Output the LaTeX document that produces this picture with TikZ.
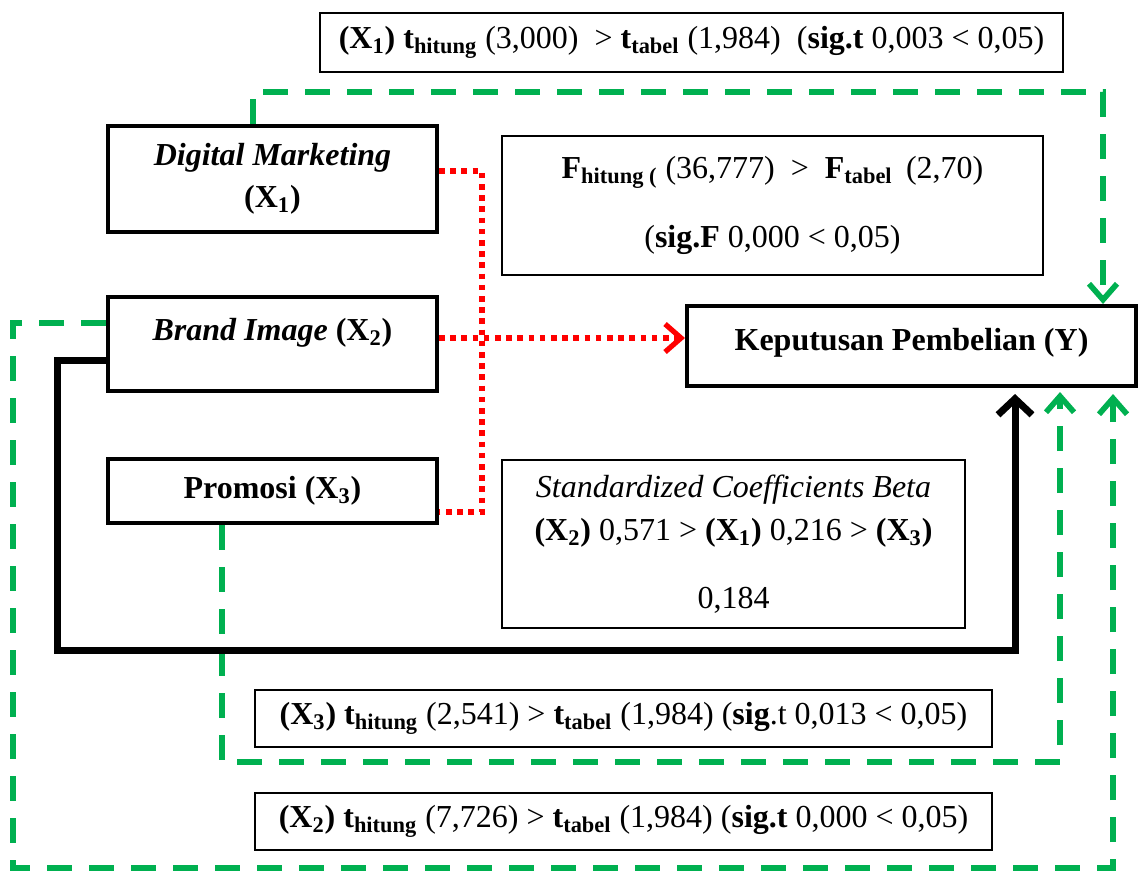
\documentclass[tikz,border=0pt]{standalone}
\usepackage{fontspec}
\setmainfont{Liberation Serif}
\usepackage{xcolor}
\definecolor{sigred}{RGB}{255,0,0}
\definecolor{siggreen}{RGB}{0,176,80}
\newcommand{\lo}[1]{\textsubscript{\textbf{#1}}}
\usepackage{tikz}
\usetikzlibrary{arrows.meta}
\usetikzlibrary{calc}

\begin{document}
\begin{tikzpicture}[x=0.5pt, y=-0.5pt,
    every node/.style={font=\fontsize{16pt}{19pt}\selectfont},
    varbox/.style={draw, line width=2pt, minimum width=164.5pt, inner sep=0pt, align=center},
    statbox/.style={draw, line width=0.75pt, inner sep=0pt, align=center},
    reddot/.style={draw=sigred, line width=2.6pt, dash pattern=on 2.8pt off 2.8pt},
    greendash/.style={draw=siggreen, line width=2.8pt, dash pattern=on 12.5pt off 8.5pt,
      -{Straight Barb[length=8pt, width=14pt]}},
    mainline/.style={line width=3.5pt, -{Straight Barb[length=8pt, width=17pt]}}]

  \useasboundingbox (0,0) rectangle (1138,875);

  % variables
  \node [varbox, minimum height=53pt] (dm) at (272.5,179)
    {\textbf{\textit{Digital Marketing}}\\[2pt]\textbf{(X\lo{1})}};
  \node [varbox, minimum height=47pt, text depth=15pt] (bi) at (272.5,344)
    {\textbf{\textit{Brand Image} (X\lo{2})}};
  \node [varbox, minimum height=32pt] (pr) at (272.5,491)
    {\textbf{Promosi (X\lo{3})}};
  \node [varbox, minimum width=224.5pt, minimum height=40pt, text depth=7pt] (yb) at (911.5,346)
    {\textbf{Keputusan Pembelian (Y)}};

  % results
  \node [statbox, minimum width=371.5pt, minimum height=29.5pt] (tone) at (691.5,42.5)
    {\textbf{(X\lo{1}) t\lo{hitung}} (3,000) \ > \textbf{t\lo{tabel}} (1,984) \ (\textbf{sig.t} 0,003 < 0,05)};
  \node [statbox, minimum width=270.5pt, minimum height=69.5pt] (fb) at (772.5,205.5)
    {\textbf{F\lo{hitung (}} (36,777) \ > \ \textbf{F\lo{tabel}} \,(2,70)\\[15.5pt]
     (\textbf{sig.F} 0,000 < 0,05)};
  \node [statbox, minimum width=231.5pt, minimum height=84pt] (bb) at (733.5,544)
    {\textit{Standardized Coefficients Beta}\\[2.5pt]
     \textbf{(X\lo{2})} 0,571 > \textbf{(X\lo{1})} 0,216 > \textbf{(X\lo{3})}\\[15pt]
     0,184};
  \node [statbox, minimum width=368.5pt, minimum height=28.5pt] (tthree) at (623.5,718.5)
    {\textbf{(X\lo{3}) t\lo{hitung}} (2,541) > \textbf{t\lo{tabel}} (1,984) (\textbf{sig}.t 0,013 < 0,05)};
  \node [statbox, minimum width=368.5pt, minimum height=28.5pt] (ttwo) at (623.5,821.5)
    {\textbf{(X\lo{2}) t\lo{hitung}} (7,726) > \textbf{t\lo{tabel}} (1,984) (\textbf{sig.t} 0,000 < 0,05)};

  % partial paths (green)
  \coordinate (gA) at (253,92);
  \coordinate (gB) at (1103,92);
  \coordinate (gC) at (13,868);
  \coordinate (gD) at (1113,868);
  \coordinate (gE) at (222,762);
  \coordinate (gF) at (1060,762);
  \draw [greendash] (gA |- dm.north) -- (gA) -- (gB) -- (gB |- yb.north);
  \draw [greendash, shorten >=3pt] ([yshift=10.5pt]bi.west) -| (gC) -- (gD) -- (gD |- yb.south);
  \draw [greendash, shorten >=2pt] (gE |- pr.south) -- (gE) -- (gF) -- (gF |- yb.south);

  % strongest path
  \coordinate (bA) at (57,650);
  \coordinate (bB) at (1015,650);
  \draw [mainline, shorten >=3pt] ([yshift=-8pt]bi.west) -| (bA) -- (bB) -- (bB |- yb.south);

  % simultaneous paths (red)
  \coordinate (rJ) at (482,338);
  \draw [reddot] ([yshift=4pt]dm.east) -| (rJ) |- ([yshift=-10.5pt]pr.east);
  \draw [reddot, -{Straight Barb[length=8pt, width=14pt]}]
    ([yshift=3pt]bi.east) -- ([yshift=3pt]bi.east -| yb.west);

\end{tikzpicture}
\end{document}
